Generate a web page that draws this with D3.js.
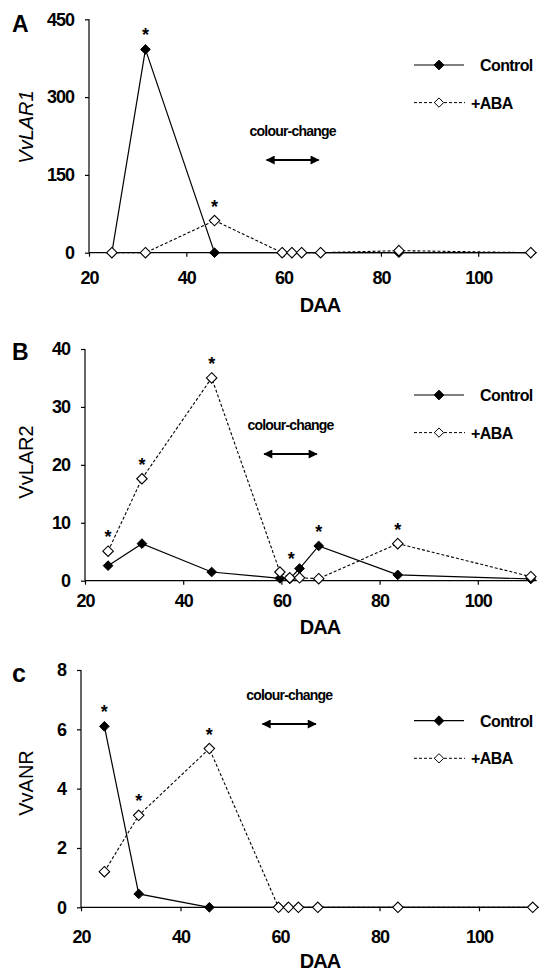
<!DOCTYPE html>
<html>
<head>
<meta charset="utf-8">
<script src="https://cdn.jsdelivr.net/npm/d3@7"></script>
<style>
  body { margin: 0; background: #fff; }
  svg { display: block; font-family: "Liberation Sans", Arial, sans-serif; }
</style>
</head>
<body>
<svg id="chart" width="540" height="974"></svg>
<script>
// sampling days (DAA), shared by all three panels
var days = [24.7, 31.6, 45.8, 59.7, 61.7, 63.7, 67.6, 83.7, 110.8];

// A - VvLAR1
var lar1Control = [0, 392, 0, 0, 0, 0, 0, 0, 0];
var lar1ABA = [0, 0, 62, 0, 0, 0, 0, 4, 0];
var lar1Ticks = [0, 150, 300, 450];
var lar1Stars = [[31.6, 392], [45.8, 62]];

// B - VvLAR2
var lar2Control = [2.6, 6.4, 1.5, 0.4, 0.3, 2.1, 6.0, 1.0, 0.3];
var lar2ABA = [5.1, 17.6, 35.0, 1.5, 0.5, 0.5, 0.35, 6.4, 0.7];
var lar2Ticks = [0, 10, 20, 30, 40];
var lar2Stars = [[24.7, 5.1], [31.6, 17.6], [45.8, 35.0], [62, 1.4], [67.6, 6.0], [83.7, 6.4]];

// c - VvANR
var anrControl = [6.1, 0.45, 0, 0, 0, 0, 0, 0, 0];
var anrABA = [1.2, 3.1, 5.35, 0, 0, 0, 0, 0, 0];
var anrTicks = [0, 2, 4, 6, 8];
var anrStars = [[24.7, 6.1], [31.6, 3.1], [45.8, 5.35]];

var xTicks = [20, 40, 60, 80, 100];
var colourChange = [56.5, 67.2];  // DAA span of the arrow

var panels = [
  { tag: "A", gene: "VvLAR1", italic: true, control: lar1Control, aba: lar1ABA, ticks: lar1Ticks, stars: lar1Stars,
    x0: 89, x1: 536.6, yTop: 19.3, yBot: 252.7, xLab: 33, daaY: 312, legY: 65, arrowY: 160, tagY: 32, geneY: 127 },
  { tag: "B", gene: "VvLAR2", italic: false, control: lar2Control, aba: lar2ABA, ticks: lar2Ticks, stars: lar2Stars,
    x0: 85, x1: 536.7, yTop: 349, yBot: 580.7, xLab: 28, daaY: 634, legY: 395, arrowY: 454, tagY: 360, geneY: 462 },
  { tag: "c", gene: "VvANR", italic: false, control: anrControl, aba: anrABA, ticks: anrTicks, stars: anrStars,
    x0: 81, x1: 538.7, yTop: 670, yBot: 907.3, xLab: 37, daaY: 968, legY: 720.7, arrowY: 724, tagY: 682, geneY: 783 }
];

var svg = d3.select("#chart");

svg.append("defs").append("marker")
    .attr("id", "head")
    .attr("viewBox", "0 0 10 10")
    .attr("refX", 9).attr("refY", 5)
    .attr("markerWidth", 10).attr("markerHeight", 9)
    .attr("markerUnits", "userSpaceOnUse")
    .attr("orient", "auto-start-reverse")
  .append("path")
    .attr("d", "M0,0 L10,5 L0,10 Z")
    .attr("fill", "#000");

var diamond = d3.symbol().type(d3.symbolDiamond2);

panels.forEach(function (p) {
  var x = d3.scaleLinear().domain([20, 112]).range([p.x0, p.x1]);
  var y = d3.scaleLinear().domain([0, d3.max(p.ticks)]).range([p.yBot, p.yTop]);
  var g = svg.append("g");

  // axes
  var yAxis = g.append("g")
      .attr("transform", "translate(" + p.x0 + ",0)")
      .call(d3.axisLeft(y).tickValues(p.ticks).tickSize(4).tickPadding(11));
  var xAxis = g.append("g")
      .attr("transform", "translate(0," + p.yBot + ")")
      .call(d3.axisBottom(x).tickValues(xTicks).tickSize(4).tickPadding(p.xLab - 18));
  [yAxis, xAxis].forEach(function (a) {
    a.select(".domain").attr("stroke-width", 1.2);
    a.selectAll(".tick line").attr("stroke-width", 1.2);
    a.selectAll("text").attr("font-size", 18).attr("font-weight", "bold")
        .attr("letter-spacing", -1).attr("fill", "#000");
  });
  yAxis.select(".domain").attr("d", "M0," + p.yTop + "V" + p.yBot);
  xAxis.select(".domain").attr("d", "M" + p.x0 + ",0H" + p.x1);

  // titles
  g.append("text")
      .attr("x", 320).attr("y", p.daaY)
      .attr("text-anchor", "middle")
      .attr("font-size", 20).attr("font-weight", "bold").attr("letter-spacing", -1)
      .text("DAA");
  g.append("text")
      .attr("transform", "translate(33," + p.geneY + ") rotate(-90)")
      .attr("text-anchor", "middle")
      .attr("font-size", 20)
      .attr("font-style", p.italic ? "italic" : "normal")
      .text(p.gene);
  g.append("text")
      .attr("x", 12).attr("y", p.tagY)
      .attr("font-size", p.tag == "c" ? 25 : 23).attr("font-weight", "bold")
      .text(p.tag);

  // colour-change annotation
  g.append("text")
      .attr("x", x(d3.mean(colourChange))).attr("y", p.arrowY - 24)
      .attr("text-anchor", "middle")
      .attr("font-size", 14).attr("font-weight", "bold").attr("letter-spacing", -0.8)
      .text("colour-change");
  g.append("line")
      .attr("x1", x(colourChange[0])).attr("x2", x(colourChange[1]))
      .attr("y1", p.arrowY).attr("y2", p.arrowY)
      .attr("stroke", "#000").attr("stroke-width", 2)
      .attr("marker-start", "url(#head)").attr("marker-end", "url(#head)");

  // series
  var line = d3.line()
      .x(function (d, i) { return x(days[i]); })
      .y(function (d) { return y(d); });

  g.append("path").datum(p.control)
      .attr("d", line).attr("fill", "none")
      .attr("stroke", "#000").attr("stroke-width", 1.2);
  g.append("path").datum(p.aba)
      .attr("d", line).attr("fill", "none")
      .attr("stroke", "#000").attr("stroke-width", 1.1).attr("stroke-dasharray", "3,2");

  g.selectAll(".ctl").data(p.control).enter().append("path")
      .attr("class", "ctl")
      .attr("transform", function (d, i) { return "translate(" + x(days[i]) + "," + y(d) + ")"; })
      .attr("d", diamond.size(60))
      .attr("fill", "#000").attr("stroke", "#000");
  g.selectAll(".aba").data(p.aba).enter().append("path")
      .attr("class", "aba")
      .attr("transform", function (d, i) { return "translate(" + x(days[i]) + "," + y(d) + ")"; })
      .attr("d", diamond.size(70))
      .attr("fill", "#fff").attr("stroke", "#000").attr("stroke-width", 1.1);

  // significance stars
  g.selectAll(".star").data(p.stars).enter().append("text")
      .attr("class", "star")
      .attr("x", function (d) { return x(d[0]); })
      .attr("y", function (d) { return y(d[1]) - 8; })
      .attr("text-anchor", "middle")
      .attr("font-size", 18).attr("font-weight", "bold")
      .text("*");

  // legend
  var leg = g.append("g").attr("transform", "translate(414," + p.legY + ")");
  leg.append("line").attr("x1", 0).attr("x2", 50)
      .attr("stroke", "#000").attr("stroke-width", 1.2);
  leg.append("path").attr("transform", "translate(25,0)")
      .attr("d", diamond.size(60)).attr("fill", "#000").attr("stroke", "#000");
  leg.append("text").attr("x", 66).attr("y", 6)
      .attr("font-size", 16).attr("font-weight", "bold").attr("letter-spacing", -0.6)
      .text("Control");
  var legB = g.append("g").attr("transform", "translate(414," + (p.legY + 37.6) + ")");
  legB.append("line").attr("x1", 0).attr("x2", 51)
      .attr("stroke", "#000").attr("stroke-width", 1).attr("stroke-dasharray", "3,2");
  legB.append("path").attr("transform", "translate(25,0)")
      .attr("d", diamond.size(55)).attr("fill", "#fff").attr("stroke", "#000");
  legB.append("text").attr("x", 57).attr("y", 6)
      .attr("font-size", 16).attr("font-weight", "bold").attr("letter-spacing", -0.6)
      .text("+ABA");
});
</script>
</body>
</html>
